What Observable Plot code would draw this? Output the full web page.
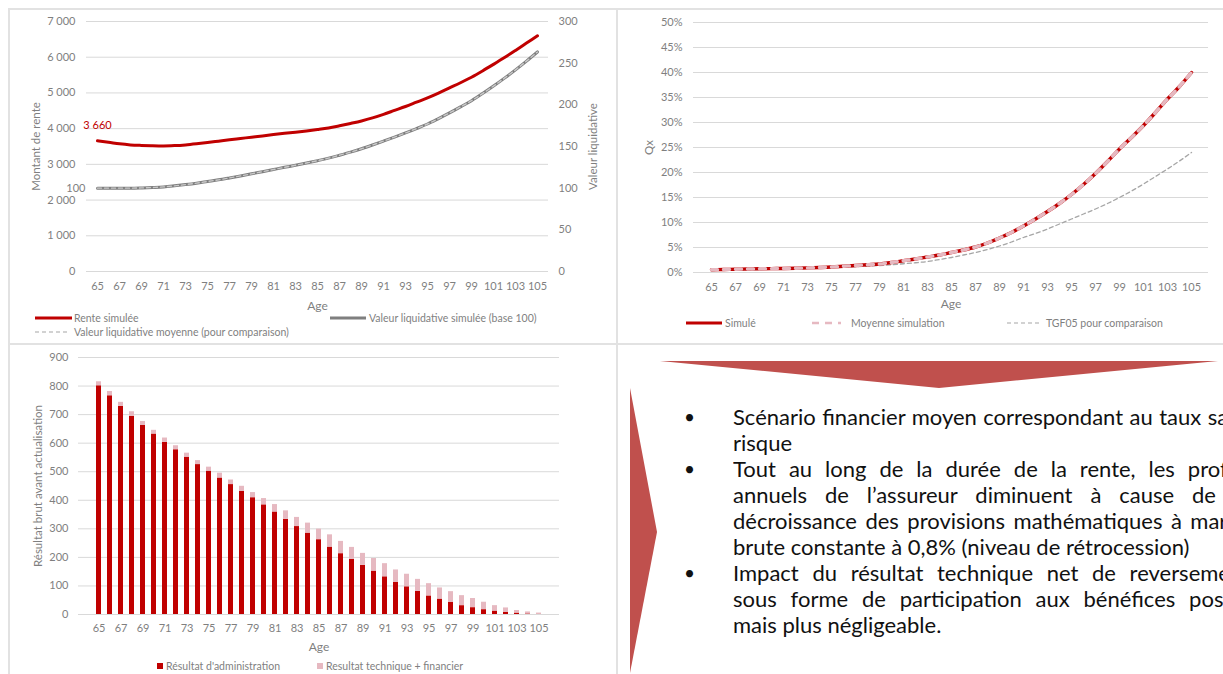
<!DOCTYPE html>
<html lang="fr">
<head>
<meta charset="utf-8">
<script src="https://cdn.jsdelivr.net/npm/d3@7"></script>
<script src="https://cdn.jsdelivr.net/npm/@observablehq/plot@0.6"></script>
<style>
  html, body { margin: 0; padding: 0; background: #fff; overflow: hidden; }
  #page { position: relative; width: 1223px; height: 674px; overflow: hidden; font-family: Lato, sans-serif; }
  .rule { position: absolute; background: #e2e2e2; }
  .leg { position: absolute; font-size: 10.5px; color: #7f7f7f; white-space: nowrap; line-height: 12px; }
  .sw { position: absolute; overflow: visible; }
  #notes { position: absolute; left: 733px; top: 404px; width: 517px; font-family: Lato, sans-serif; font-size: 22px; line-height: 26px; color: #111; }
  #notes div { height: 26px; overflow: hidden; }
  .bullet { position: absolute; left: 684px; font-size: 19px; line-height: 26px; color: #111; }
</style>
</head>
<body>
<div id="page"></div>
<script>
// Ages 65 to 105
const ages = [65,66,67,68,69,70,71,72,73,74,75,76,77,78,79,80,81,82,83,84,85,
              86,87,88,89,90,91,92,93,94,95,96,97,98,99,100,101,102,103,104,105];
const xTicks = [65,67,69,71,73,75,77,79,81,83,85,87,89,91,93,95,97,99,101,103,105];

// Rente simulée (€)
const renteSimulee = [3660,3620,3575,3545,3530,3520,3515,3525,3545,3575,3610,3650,3690,3725,3760,3795,3835,3870,3900,3935,
                      3975,4020,4080,4145,4215,4300,4400,4510,4620,4740,4860,4995,5140,5285,5440,5615,5800,5990,6190,6395,6600];
// Valeur liquidative simulée (base 100)
const vlSimulee = [100,100,100,100,100.3,100.8,101.5,102.8,104.3,106,108,110,112.3,114.7,117.2,119.8,122.4,125,127.5,130.2,
                   133,136,139.5,143.2,147.3,151.8,156.5,161.3,166.3,171.5,177,183.5,190.3,197.5,205,213.5,222.5,232,242,252.5,263.5];
// Valeur liquidative moyenne (pour comparaison)
const vlMoyenne = [100,100,100,100,100.3,100.8,101.5,102.8,104.3,106,108,110,112.3,114.7,117.2,119.8,122.4,125,127.5,130.2,
                   133,136,139.5,143.2,147.3,151.8,156.5,161.3,166.3,171.5,177,183.5,190.3,197.5,205,213.5,222.5,232,242,252.5,263.5];
const renteTicks = [0,1000,2000,3000,4000,5000,6000,7000];
const vlTicks = [0,50,100,150,200,250,300];

// Qx (%)
const qxSimule = [0.55,0.6,0.65,0.7,0.75,0.78,0.8,0.85,0.92,1.0,1.1,1.25,1.4,1.55,1.7,2.0,2.35,2.7,3.1,3.5,
                  4.0,4.5,5.1,5.9,6.9,8.0,9.3,10.7,12.2,13.8,15.6,17.6,19.8,22.2,24.7,27.0,29.4,32.0,34.7,37.2,40.0];
const qxMoyenne = [0.55,0.6,0.65,0.7,0.75,0.78,0.8,0.85,0.92,1.0,1.1,1.25,1.4,1.55,1.7,2.0,2.35,2.7,3.1,3.5,
                   4.0,4.5,5.1,5.9,6.9,8.0,9.3,10.7,12.2,13.8,15.6,17.6,19.8,22.2,24.7,27.0,29.4,32.0,34.7,37.2,40.0];
const qxTGF05 = [0.4,0.45,0.5,0.55,0.6,0.65,0.7,0.75,0.82,0.9,0.98,1.07,1.17,1.28,1.4,1.55,1.75,1.95,2.2,2.6,
                 3.0,3.5,4.0,4.6,5.3,6.1,7.0,7.8,8.7,9.7,10.7,11.7,12.7,13.8,15.0,16.3,17.7,19.2,20.7,22.3,24.0];
const qxTicks = [0,0.05,0.1,0.15,0.2,0.25,0.3,0.35,0.4,0.45,0.5];

// Résultat brut avant actualisation
const resAdmin = [801,766,729,694,662,632,603,577,551,525,502,478,455,431,409,384,359,333,308,285,
                  262,236,213,193,172,152,132,113,97,81,65,54,42,31,24,17,12,8,5,2,1];
const resTechFin = [14,15,14,16,14,13,15,14,14,14,14,17,16,18,18,22,26,30,32,35,
                    37,43,43,42,42,44,46,43,44,42,43,39,38,35,32,26,19,15,9,7,4];
const resTicks = [0,100,200,300,400,500,600,700,800,900];
const resSeries = ["Résultat d'administration", "Resultat technique + financier"];

const RED = "#c00000", GREY = "#7f7f7f", GRID = "#d9d9d9", PINK = "#e6b9c1";
const FONT = "Lato, sans-serif";
const frNum = d3.formatLocale({decimal: ",", thousands: "\u00a0", grouping: [3], currency: ["", ""]}).format(",.0f");

const page = document.getElementById("page");

function place(el, left, top) {
  el.style.position = "absolute";
  el.style.left = left + "px";
  el.style.top = top + "px";
  page.appendChild(el);
  return el;
}
function rule(l, t, w, h) {
  const d = document.createElement("div");
  d.className = "rule";
  Object.assign(d.style, {left: l + "px", top: t + "px", width: w + "px", height: h + "px"});
  page.appendChild(d);
}
function swatchLine(x1, x2, y, stroke, width, dash) {
  const ns = "http://www.w3.org/2000/svg";
  const s = document.createElementNS(ns, "svg");
  s.setAttribute("class", "sw");
  s.setAttribute("width", x2 - x1);
  s.setAttribute("height", 10);
  s.style.left = x1 + "px"; s.style.top = (y - 5) + "px";
  const l = document.createElementNS(ns, "line");
  l.setAttribute("x1", 0); l.setAttribute("x2", x2 - x1);
  l.setAttribute("y1", 5); l.setAttribute("y2", 5);
  l.setAttribute("stroke", stroke); l.setAttribute("stroke-width", width);
  if (dash) l.setAttribute("stroke-dasharray", dash);
  s.appendChild(l);
  page.appendChild(s);
}
function swatchBox(x, y, size, fill) {
  const d = document.createElement("div");
  Object.assign(d.style, {position: "absolute", left: x + "px", top: (y - size / 2) + "px", width: size + "px", height: size + "px", background: fill});
  page.appendChild(d);
}
function legendText(x, y, txt) {
  const d = document.createElement("div");
  d.className = "leg";
  d.textContent = txt;
  d.style.left = x + "px"; d.style.top = (y - 6) + "px";
  page.appendChild(d);
}

// Panel frames
rule(8, 8, 1215, 1.5);
rule(8, 8, 1.5, 666);
rule(616, 8, 1.5, 666);
rule(8, 343, 1215, 1.5);

const axisStyle = {color: GREY, fontSize: 11, tickSize: 0, label: null};
const titleStyle = {text: d => d, rotate: -90, textAnchor: "middle", fill: GREY, fontSize: 11.5};

// ---- Rente simulée & valeur liquidative (double axe) ----
const K = 7000 / 300;
const rows1 = ages.map((age, i) => ({age, rente: renteSimulee[i], vl: vlSimulee[i], vlm: vlMoyenne[i]}));
const chart1 = Plot.plot({
  width: 609, height: 336,
  marginLeft: 78, marginRight: 69, marginTop: 13, marginBottom: 73,
  style: {fontFamily: FONT, background: "transparent", overflow: "visible"},
  x: {type: "point", domain: ages, padding: 0.5},
  y: {domain: [0, 7000]},
  marks: [
    Plot.gridY(renteTicks, {stroke: GRID, strokeOpacity: 1}),
    Plot.axisY(renteTicks, {...axisStyle, anchor: "left", tickPadding: 11, tickFormat: frNum}),
    Plot.axisY(vlTicks.map(v => v * K), {...axisStyle, anchor: "right", tickPadding: 10, tickFormat: d => Math.round(d / K)}),
    Plot.axisX(xTicks, {...axisStyle, tickPadding: 11}),
    Plot.line(rows1, {x: "age", y: d => d.vl * K, stroke: GREY, strokeWidth: 3, curve: "monotone-x"}),
    Plot.line(rows1, {x: "age", y: d => d.vlm * K, stroke: "#c9c9c9", strokeWidth: 1.4, strokeDasharray: "4,3", curve: "monotone-x"}),
    Plot.line(rows1, {x: "age", y: "rente", stroke: RED, strokeWidth: 3, curve: "monotone-x"}),
    Plot.text(rows1.slice(0, 1), {x: "age", y: "rente", text: d => frNum(d.rente), dy: -15, fill: RED, fontSize: 11}),
    Plot.text(rows1.slice(0, 1), {x: "age", y: d => d.vl * K, text: d => String(d.vl), textAnchor: "end", dx: -12, fill: GREY, fontSize: 11}),
    Plot.text(["Montant de rente"], {...titleStyle, frameAnchor: "left", dx: -50}),
    Plot.text(["Valeur liquidative"], {...titleStyle, frameAnchor: "right", dx: 45}),
    Plot.text(["Age"], {text: d => d, frameAnchor: "bottom", dy: 38, fill: GREY, fontSize: 12})
  ]
});
place(chart1, 8, 8);
swatchLine(35, 72, 318, RED, 3);
legendText(74, 318, "Rente simulée");
swatchLine(35, 69, 332, "#a6a6a6", 1.2, "4,3");
legendText(74, 332, "Valeur liquidative moyenne (pour comparaison)");
swatchLine(330, 366, 318, GREY, 3);
legendText(369, 318, "Valeur liquidative simulée (base 100)");

// ---- Qx ----
const rows2 = ages.map((age, i) => ({age, sim: qxSimule[i] / 100, moy: qxMoyenne[i] / 100, tgf: qxTGF05[i] / 100}));
const chart2 = Plot.plot({
  width: 606, height: 336,
  marginLeft: 76, marginRight: 15, marginTop: 14, marginBottom: 72,
  style: {fontFamily: FONT, background: "transparent", overflow: "visible"},
  x: {type: "point", domain: ages, padding: 0.5},
  y: {domain: [0, 0.5]},
  marks: [
    Plot.gridY(qxTicks, {stroke: GRID, strokeOpacity: 1}),
    Plot.axisY(qxTicks, {...axisStyle, anchor: "left", tickPadding: 11, tickFormat: d3.format(".0%")}),
    Plot.axisX(xTicks, {...axisStyle, tickPadding: 11}),
    Plot.line(rows2, {x: "age", y: "tgf", stroke: "#a6a6a6", strokeWidth: 1.3, strokeDasharray: "4,3", curve: "monotone-x"}),
    Plot.line(rows2, {x: "age", y: "sim", stroke: RED, strokeWidth: 3.4, curve: "monotone-x"}),
    Plot.line(rows2, {x: "age", y: "moy", stroke: PINK, strokeWidth: 3.4, strokeDasharray: "6,6", curve: "monotone-x"}),
    Plot.text(["Qx"], {...titleStyle, frameAnchor: "left", dx: -44}),
    Plot.text(["Age"], {text: d => d, frameAnchor: "bottom", dy: 35, fill: GREY, fontSize: 12})
  ]
});
place(chart2, 617, 8);
swatchLine(686, 722, 323, RED, 3);
legendText(725, 323, "Simulé");
swatchLine(812, 841, 323, PINK, 2.5, "7,6");
legendText(851, 323, "Moyenne simulation");
swatchLine(1007, 1041, 323, "#a6a6a6", 1.2, "4,3");
legendText(1046, 323, "TGF05 pour comparaison");

// ---- Résultat brut avant actualisation (barres empilées) ----
const rows3 = [
  ...ages.map((age, i) => ({age, serie: resSeries[0], v: resAdmin[i]})),
  ...ages.map((age, i) => ({age, serie: resSeries[1], v: resTechFin[i]}))
];
const chart3 = Plot.plot({
  width: 609, height: 330,
  marginLeft: 70, marginRight: 58, marginTop: 13, marginBottom: 60,
  style: {fontFamily: FONT, background: "transparent", overflow: "visible"},
  x: {type: "band", domain: ages, paddingInner: 0.58, paddingOuter: 0.29},
  y: {domain: [0, 900]},
  color: {domain: resSeries, range: [RED, PINK]},
  marks: [
    Plot.gridY(resTicks, {stroke: GRID, strokeOpacity: 1}),
    Plot.axisY(resTicks, {...axisStyle, anchor: "left", tickPadding: 10}),
    Plot.axisX(xTicks, {...axisStyle, tickPadding: 10}),
    Plot.barY(rows3, {x: "age", y: "v", fill: "serie"}),
    Plot.text(["Résultat brut avant actualisation"], {...titleStyle, frameAnchor: "left", dx: -40}),
    Plot.text(["Age"], {text: d => d, frameAnchor: "bottom", dy: 36, fill: GREY, fontSize: 12})
  ]
});
place(chart3, 8, 344);
swatchBox(157, 666, 6, RED);
legendText(166, 666, resSeries[0]);
swatchBox(317, 666, 6, PINK);
legendText(326, 666, resSeries[1]);

// ---- Commentaires ----
const ns = "http://www.w3.org/2000/svg";
const deco = document.createElementNS(ns, "svg");
deco.setAttribute("width", 1223); deco.setAttribute("height", 674);
deco.style.position = "absolute"; deco.style.left = "0px"; deco.style.top = "0px";
["660,361 1218,361 939,388", "630,388 657,532 630,673"].forEach(pts => {
  const p = document.createElementNS(ns, "polygon");
  p.setAttribute("points", pts);
  p.setAttribute("fill", "#c0504d");
  deco.appendChild(p);
});
page.appendChild(deco);

const notes = [
  {text: "Scénario financier moyen correspondant au taux sans", bullet: true, justify: true},
  {text: "risque"},
  {text: "Tout au long de la durée de la rente, les profits", bullet: true, justify: true},
  {text: "annuels de l’assureur diminuent à cause de la", justify: true},
  {text: "décroissance des provisions mathématiques à marge", justify: true},
  {text: "brute constante à 0,8% (niveau de rétrocession)"},
  {text: "Impact du résultat technique net de reversement", bullet: true, justify: true},
  {text: "sous forme de participation aux bénéfices positif", justify: true},
  {text: "mais plus négligeable."}
];
const box = document.createElement("div");
box.id = "notes";
page.appendChild(box);
notes.forEach((n, i) => {
  const d = document.createElement("div");
  box.appendChild(d);
  // a justified line is only stretched when its natural width fits the column
  const probe = document.createElement("span");
  probe.style.whiteSpace = "nowrap";
  probe.textContent = n.text;
  d.appendChild(probe);
  const natural = probe.getBoundingClientRect().width;
  d.textContent = n.text;
  if (n.justify && natural < box.clientWidth) {
    d.style.textAlign = "justify";
    d.style.textAlignLast = "justify";
  } else {
    d.style.whiteSpace = "nowrap";
  }
  if (n.bullet) {
    const b = document.createElement("div");
    b.className = "bullet";
    b.textContent = "•";
    b.style.top = (404 + i * 26) + "px";
    page.appendChild(b);
  }
});
</script>
</body>
</html>
